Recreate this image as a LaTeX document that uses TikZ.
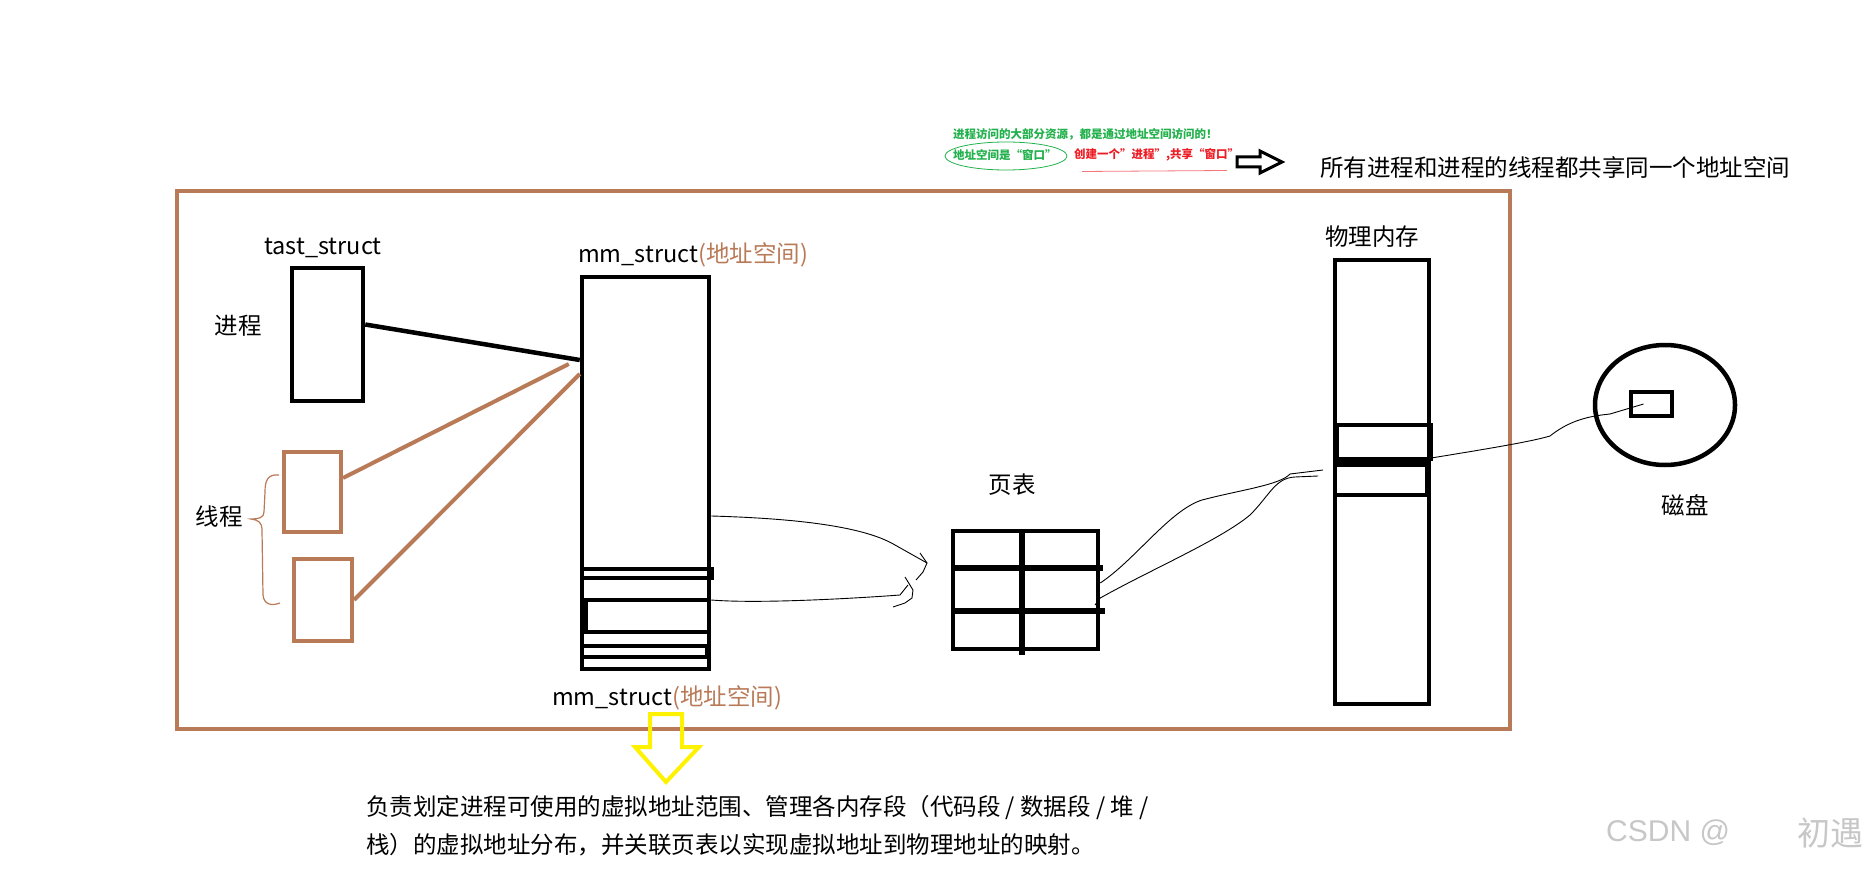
\documentclass[tikz,border=0pt]{standalone}
\usepackage{fontspec}
\setmainfont{Noto Sans CJK SC}
\newfontfamily\wmfont{Liberation Sans}
\usetikzlibrary{shapes.geometric}
\definecolor{paintbrown}{RGB}{185,122,87}
\definecolor{paintyellow}{RGB}{255,242,0}
\definecolor{notegreen}{RGB}{34,177,76}
\definecolor{notered}{RGB}{237,28,36}
\tikzset{
  box/.style={draw, rectangle, line width=4.5pt, inner sep=0pt},
  thread/.style={draw=paintbrown, rectangle, line width=4pt, inner sep=0pt},
  lbl/.style={inner sep=0pt, font=\fontsize{23.5}{26}\selectfont},
  note/.style={inner sep=0pt, font=\fontsize{11.5}{13}\selectfont\bfseries},
  hand/.style={line width=0.9pt},
}
\begin{document}
\begin{tikzpicture}[x=1pt, y=-1pt]
        \useasboundingbox (0,0) rectangle (1874,869);

        % Address space frame
        \node[draw=paintbrown, line width=4.5pt, minimum width=1333pt, minimum height=538pt] (frame) at (843.5,460) {};

        % Process and threads
        \node[box, minimum width=71pt, minimum height=133pt] (task) at (327.5,334.5) {};
        \node[lbl, anchor=center] (tasklbl) at (323,248) {tast\_struct};
        \node[lbl] (proc) at (238,326) {进程};
        \node[thread, minimum width=57pt, minimum height=80pt] (th1) at (312.5,492) {};
        \node[thread, minimum width=58pt, minimum height=82pt] (th2) at (323,600) {};
        \node[lbl] (thr) at (219,517) {线程};
        \draw[paintbrown, line width=1.2pt] (279,475) .. controls (268,474) and (265,480) .. (265,492) -- (264,512)
            .. controls (264,518) and (258,519) .. (251,519) .. controls (258,520) and (262,522) .. (262,530)
            -- (263,595) .. controls (264,605) and (272,606) .. (280,603);

        % mm_struct
        \node[box, minimum width=127pt, minimum height=392pt] (mm) at (645.5,473) {};
        \node[lbl, anchor=west] (mmtop) at (578,255) {mm\_struct\textcolor{paintbrown}{(地址空间)}};
        \node[lbl, anchor=west] (mmbot) at (552,698) {mm\_struct\textcolor{paintbrown}{(地址空间)}};
        \draw[line width=4.5pt] (582,569) rectangle (712,578);
        \draw[line width=4.5pt] (582,600) -- (709,600);
        \draw[line width=4.5pt] (586,600) -- (586,632);
        \draw[line width=4.5pt] (582,632) -- (709,632);
        \draw[line width=4.5pt] (582,646) rectangle (707,657);

        % Links to mm_struct
        \draw[line width=4.5pt] ([yshift=10pt]task.east) -- ([yshift=113pt]mm.west);
        \draw[paintbrown, line width=4pt] ([yshift=14pt]th1.east) -- ([xshift=-11pt,yshift=109pt]mm.west);
        \draw[paintbrown, line width=4pt] (th2.east) -- ([yshift=99pt]mm.west);

        % Page table
        \node[box, minimum width=145pt, minimum height=118pt] (pt) at (1025.5,590) {};
        \node[lbl] (ptlbl) at (1012,485) {页表};
        \draw[line width=5.5pt] (pt.west |- 0,568) -- (1103,568);
        \draw[line width=5.5pt] (pt.west |- 0,611) -- (1105,611);
        \draw[line width=5.5pt] (1022,531) -- (1022,655);

        % mm_struct -> page table (hand drawn)
        \coordinate (tipA) at (927,563);
        \coordinate (tipB) at (913,590);
        \draw[hand] ([yshift=-43pt]mm.east) .. controls (780,518) and (860,524) .. (895,545) -- (tipA);
        \draw[hand] (920,553) -- (tipA) -- (923,572) -- (916,580);
        \draw[hand] ([yshift=-127pt]mm.east) .. controls (760,604) and (860,598) .. (900,595) -- (908,585);
        \draw[hand] (905,577) -- (tipB) -- (912,598) -- (905,603) -- (893,607);

        % Physical memory
        \node[box, minimum width=94pt, minimum height=444pt] (mem) at (1382,482) {};
        \node[lbl] (memlbl) at (1372,237) {物理内存};
        \draw[line width=4.5pt] (1337,425) rectangle (1431,459);
        \draw[line width=2pt] (1335,462) -- (1429,462);
        \draw[line width=4.5pt] (1335,465) rectangle (1427,495);

        % Page table -> physical memory (hand drawn)
        \coordinate (memA) at (1323,470);
        \coordinate (memB) at (1318,476);
        \draw[hand] ([yshift=7pt]pt.east) .. controls (1135,560) and (1170,510) .. (1202,500)
            .. controls (1240,490) and (1280,485) .. (1290,474) -- (memA);
        \draw[hand] (1095,605) -- ([yshift=-8pt]pt.east) .. controls (1150,570) and (1220,540) .. (1250,515)
            .. controls (1270,495) and (1275,478) .. (1295,477) -- (memB);

        % Disk
        \node[draw, ellipse, line width=4.5pt, minimum width=140pt, minimum height=120pt, inner sep=0pt] (disk) at (1665,405) {};
        \node[box, line width=4pt, minimum width=41pt, minimum height=24pt] (blk) at (1651.5,404) {};
        \node[lbl] (disklbl) at (1685,505) {磁盘};
        \draw[hand] ([yshift=24pt]mem.east) .. controls (1480,450) and (1530,442) .. (1550,436)
            .. controls (1570,420) and (1590,416) .. (1610,414) -- ([xshift=-8pt]blk.center);

        % Notes on top
        \node[note, text=notegreen, anchor=west] (note1) at (953,134) {进程访问的大部分资源，都是通过地址空间访问的！};
        \node[note, text=notegreen, anchor=west] (note2) at (953,155) {地址空间是“窗口”};
        \draw[notegreen, line width=0.8pt] (1006,156) ellipse (61pt and 14pt);
        \node[note, text=notered, anchor=west] (note3) at (1074,155) {创建一个"进程",共享“窗口”};
        \draw[notered!60, line width=0.8pt] (note3.south west) ++(8,10) -- ++(145,-1);
        \draw[line width=3pt] (1237,157) -- (1260,157) -- (1260,151) -- (1282,162) -- (1260,173) -- (1260,167) -- (1237,167) -- cycle;
        \node[lbl, anchor=west] (share) at (1320,168) {所有进程和进程的线程都共享同一个地址空间};

        % Explanation below
        \draw[paintyellow, line width=4pt] (650,714) -- (682,714) -- (682,747) -- (699,747) -- (666,782) -- (635,747) -- (650,747) -- cycle;
        \node[lbl, anchor=west] (desc1) at (366,808) {负责划定进程可使用的虚拟地址范围、管理各内存段（代码段 / 数据段 / 堆 /};
        \node[lbl, anchor=west] (desc2) at (366,845) {栈）的虚拟地址分布，并关联页表以实现虚拟地址到物理地址的映射。};

        % Watermark
        \node[inner sep=0pt, text=black!22, anchor=west, font=\wmfont\fontsize{30}{32}\selectfont] (wm) at (1606,833) {CSDN @};
        \node[lbl, text=black!22, anchor=west, font=\fontsize{33}{35}\selectfont] (wmname) at (1797,833) {初遇};
\end{tikzpicture}
\end{document}
